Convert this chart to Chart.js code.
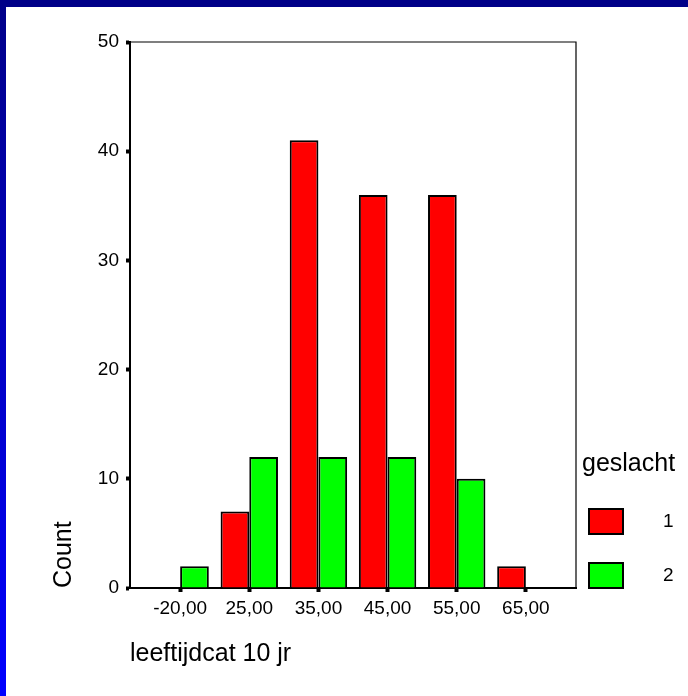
<!DOCTYPE html>
<html>
<head>
<meta charset="utf-8">
<script src="https://cdn.jsdelivr.net/npm/chart.js@4"></script>
<style>
  html, body { margin: 0; padding: 0; background: #fff; }
  #wrap { position: relative; width: 688px; height: 696px; }
  #topbar { position: absolute; left: 0; top: 0; width: 688px; height: 7px; background: #000088; }
  #leftbar { position: absolute; left: 0; top: 0; width: 6px; height: 696px;
             background: linear-gradient(#000088, #0000ff); }
  canvas { position: absolute; left: 0; top: 0; }
</style>
</head>
<body>
<div id="wrap">
  <canvas id="chart" width="688" height="696"></canvas>
  <div id="topbar"></div>
  <div id="leftbar"></div>
</div>
<script>
// leeftijdcat 10 jr, counts per geslacht
const categories = ['-20,00', '25,00', '35,00', '45,00', '55,00', '65,00'];
const seriesNames = ['1', '2'];
const countsSex1 = [null, 7, 41, 36, 36, 2];
const countsSex2 = [2, 12, 12, 12, 10, null];
const yTicks = [0, 10, 20, 30, 40, 50];

const toPoints = (arr) => arr.map((v, i) => ({ x: i, y: v }));
const FONT = 'Liberation Sans, Arial, sans-serif';

// top/right border of the plot box
const frame = {
  id: 'frame',
  afterDatasetsDraw(chart) {
    const { ctx, chartArea: a } = chart;
    ctx.save();
    ctx.strokeStyle = '#000';
    ctx.lineWidth = 1.2;
    ctx.beginPath();
    ctx.moveTo(a.left, a.top);
    ctx.lineTo(a.right, a.top);
    ctx.lineTo(a.right, a.bottom);
    ctx.stroke();
    ctx.restore();
  }
};

// SPSS style legend at bottom right
const sideLegend = {
  id: 'sideLegend',
  afterDraw(chart) {
    const { ctx, chartArea: a } = chart;
    ctx.save();
    ctx.fillStyle = '#000';
    ctx.textBaseline = 'middle';
    ctx.textAlign = 'left';
    ctx.font = '25px ' + FONT;
    ctx.fillText('geslacht', a.right + 6, a.bottom - 124);
    chart.data.datasets.forEach((ds, i) => {
      const y = a.bottom - 79 + i * 54;
      ctx.fillStyle = ds.backgroundColor;
      ctx.fillRect(a.right + 13, y, 34, 25);
      ctx.strokeStyle = '#000';
      ctx.lineWidth = 2;
      ctx.strokeRect(a.right + 13, y, 34, 25);
      ctx.fillStyle = '#000';
      ctx.font = '19px ' + FONT;
      ctx.fillText(ds.label, a.right + 87, y + 13);
    });
    ctx.restore();
  }
};

new Chart(document.getElementById('chart'), {
  type: 'bar',
  data: {
    datasets: [
      { label: seriesNames[0], data: toPoints(countsSex1), backgroundColor: '#ff0000' },
      { label: seriesNames[1], data: toPoints(countsSex2), backgroundColor: '#00ff00' }
    ]
  },
  options: {
    responsive: false,
    animation: false,
    devicePixelRatio: 1,
    layout: { padding: { left: 0, top: 42, right: 112, bottom: 0 } },
    datasets: {
      bar: { borderColor: '#000', borderWidth: 2, barPercentage: 1, categoryPercentage: 0.83 }
    },
    plugins: { legend: { display: false }, tooltip: { enabled: false } },
    scales: {
      x: {
        type: 'linear',
        offset: false,
        min: -0.725,
        max: categories.length - 1 + 0.725,
        afterBuildTicks: (s) => { s.ticks = categories.map((c, i) => ({ value: i })); },
        afterFit: (s) => { s.height = 108; },
        ticks: {
          callback: (v) => categories[v],
          color: '#000',
          font: { family: FONT, size: 19 },
          padding: 5,
          maxRotation: 0,
          autoSkip: false
        },
        grid: { offset: false, drawOnChartArea: false, drawTicks: true, tickLength: 4, tickWidth: 4, tickColor: '#000' },
        border: { display: true, color: '#000', width: 2 },
        title: {
          display: true,
          text: 'leeftijdcat 10 jr',
          align: 'start',
          color: '#000',
          font: { family: FONT, size: 25 },
          padding: { bottom: 27 }
        }
      },
      y: {
        min: 0,
        max: 50,
        afterBuildTicks: (s) => { s.ticks = yTicks.map(v => ({ value: v })); },
        afterFit: (s) => { s.width = 130; },
        ticks: {
          color: '#000',
          font: { family: FONT, size: 19 },
          padding: 7
        },
        grid: { drawOnChartArea: false, drawTicks: true, tickLength: 4, tickWidth: 4, tickColor: '#000' },
        border: { display: true, color: '#000', width: 2 },
        title: {
          display: true,
          text: 'Count',
          align: 'start',
          color: '#000',
          font: { family: FONT, size: 25 },
          padding: { top: 49 }
        }
      }
    }
  },
  plugins: [frame, sideLegend]
});
</script>
</body>
</html>
